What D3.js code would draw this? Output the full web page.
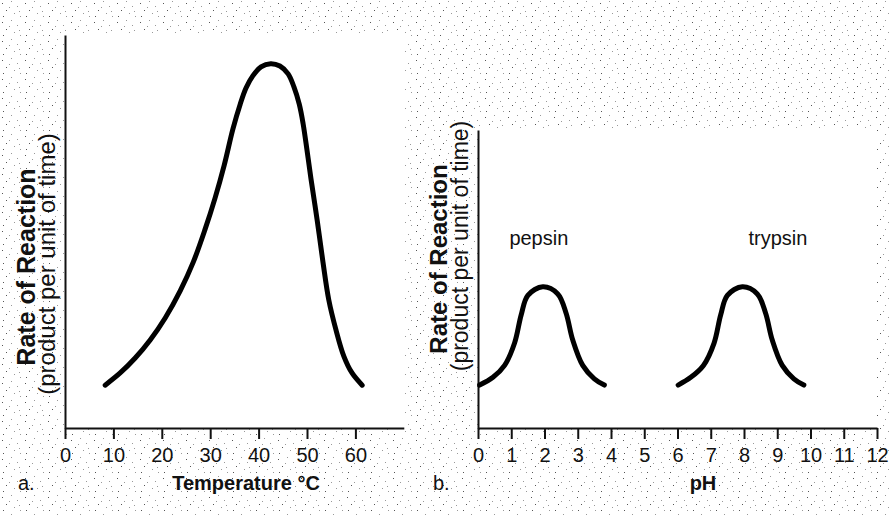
<!DOCTYPE html>
<html>
<head>
<meta charset="utf-8">
<script src="https://cdn.jsdelivr.net/npm/d3@7"></script>
<style>
  body { margin: 0; background: #fff; }
  svg { display: block; font-family: "Liberation Sans", Arial, Helvetica, sans-serif; }
</style>
</head>
<body>
<svg id="chart" width="891" height="515"></svg>
<script>
// panel a: temperature curve (rate in arbitrary units 0-100)
var tempC    = [8.3, 11.4, 14.5, 17.6, 20.7, 23.8, 26.5, 28.9, 31.0, 32.9, 34.7, 36.2, 37.4, 38.8, 40.5, 42.5, 44.4, 46.1, 47.3, 48.4, 49.2, 50.0, 50.8, 52.1, 53.3, 54.5, 56.0, 57.6, 59.3, 61.4];
var tempRate = [10.9, 14.0, 17.8, 22.4, 28.0, 34.9, 42.2, 50.4, 58.5, 66.9, 76.1, 82.4, 86.5, 89.6, 91.9, 92.7, 92.1, 90.1, 86.8, 82.4, 77.4, 70.7, 63.6, 52.9, 42.2, 32.6, 24.9, 18.3, 14.0, 10.9];
var tempTicks = [0, 10, 20, 30, 40, 50, 60];

// panel b: pH curves
var pepsinPH    = [0.05, 0.45, 0.8, 1.1, 1.3, 1.5, 1.95, 2.4, 2.65, 2.85, 3.15, 3.5, 3.8];
var pepsinRate  = [14.4, 17.0, 21.0, 28.5, 38.0, 44.5, 47.4, 45.0, 38.5, 29.5, 21.0, 16.5, 14.4];
var trypsinPH   = [6.02, 6.4, 6.78, 7.1, 7.3, 7.5, 7.95, 8.4, 8.65, 8.85, 9.15, 9.5, 9.8];
var trypsinRate = [14.4, 17.0, 21.0, 28.5, 38.0, 44.5, 47.4, 45.0, 38.5, 29.5, 21.0, 16.5, 14.4];
var phTicks = [0, 1, 2, 3, 4, 5, 6, 7, 8, 9, 10, 11, 12];

var svg = d3.select("#chart");

// speckled paper background (fixed dot layout in a tile)
var defs = svg.append("defs");
var pat = defs.append("pattern").attr("id", "speck")
  .attr("patternUnits", "userSpaceOnUse").attr("width", 23).attr("height", 19);
pat.append("rect").attr("width", 23).attr("height", 19).attr("fill", "#fff");
[[2,3],[11,1],[17,6],[6,10],[14,13],[20,16],[3,16],[9,7],[19,11]].forEach(function(p, i) {
  pat.append("rect").attr("x", p[0]).attr("y", p[1]).attr("width", 1).attr("height", 1)
    .attr("fill", i % 3 == 0 ? "#555" : "#999");
});
svg.append("rect").attr("width", 891).attr("height", 515).attr("fill", "url(#speck)");

// scales
var xT = d3.scaleLinear().domain([0, 70]).range([65, 403.8]);
var yT = d3.scaleLinear().domain([0, 100]).range([428, 35]);
var xP = d3.scaleLinear().domain([0, 12]).range([478, 877]);
var yP = d3.scaleLinear().domain([0, 100]).range([428, 130]);

// white plot areas
svg.append("rect").attr("x", xT.range()[0]).attr("y", yT.range()[1])
  .attr("width", xT.range()[1] - xT.range()[0]).attr("height", yT.range()[0] - yT.range()[1]).attr("fill", "#fff");
svg.append("rect").attr("x", xP.range()[0]).attr("y", yP.range()[1])
  .attr("width", xP.range()[1] - xP.range()[0]).attr("height", yP.range()[0] - yP.range()[1]).attr("fill", "#fff");

function drawAxes(x, y) {
  var gx = svg.append("g").attr("transform", "translate(0," + y.range()[0] + ")")
    .call(d3.axisBottom(x).tickValues(x === xT ? tempTicks : phTicks).tickFormat(d3.format("d"))
      .tickSize(11).tickSizeOuter(0).tickPadding(9));
  var gy = svg.append("g").attr("transform", "translate(" + x.range()[0] + ",0)")
    .call(d3.axisLeft(y).tickValues([]).tickSizeOuter(0));
  [gx, gy].forEach(function(g) {
    g.select(".domain").attr("stroke", "#111").attr("stroke-width", 2);
    g.selectAll(".tick line").attr("stroke", "#111").attr("stroke-width", 2);
    g.selectAll(".tick text").attr("fill", "#111").style("font-size", "20px");
  });
}
drawAxes(xT, yT);
drawAxes(xP, yP);

function curve(x, y, xs, ys) {
  var pts = xs.map(function(v, i) { return [v, ys[i]]; });
  svg.append("path").datum(pts)
    .attr("fill", "none").attr("stroke", "#000").attr("stroke-width", 5)
    .attr("stroke-linecap", "round")
    .attr("d", d3.line().x(function(d) { return x(d[0]); }).y(function(d) { return y(d[1]); })
      .curve(d3.curveCatmullRom.alpha(0.5)));
}
curve(xT, yT, tempC, tempRate);
curve(xP, yP, pepsinPH, pepsinRate);
curve(xP, yP, trypsinPH, trypsinRate);

// text
function yLabel(bx, rx, cy, cy2, size) {
  svg.append("text").attr("transform", "translate(" + bx + "," + cy + ") rotate(-90)")
    .attr("text-anchor", "middle").style("font-size", size + "px").style("font-weight", "bold")
    .attr("fill", "#111").text("Rate of Reaction");
  svg.append("text").attr("transform", "translate(" + rx + "," + cy2 + ") rotate(-90)")
    .attr("text-anchor", "middle").style("font-size", (size - 1) + "px")
    .attr("fill", "#111").text("(product per unit of time)");
}
yLabel(35, 55, 267, 264, 25);
yLabel(447, 468, 259, 246, 24);

svg.append("text").attr("x", 246).attr("y", 490).attr("text-anchor", "middle")
  .style("font-size", "20px").style("font-weight", "bold").attr("fill", "#111").text("Temperature °C");
svg.append("text").attr("x", 703).attr("y", 490).attr("text-anchor", "middle")
  .style("font-size", "20px").style("font-weight", "bold").attr("fill", "#111").text("pH");
svg.append("text").attr("x", 18).attr("y", 490).style("font-size", "20px").attr("fill", "#111").text("a.");
svg.append("text").attr("x", 433).attr("y", 490).style("font-size", "20px").attr("fill", "#111").text("b.");

svg.append("text").attr("x", xP(1.83)).attr("y", 245).attr("text-anchor", "middle")
  .style("font-size", "20px").attr("fill", "#111").text("pepsin");
svg.append("text").attr("x", xP(9.02)).attr("y", 245).attr("text-anchor", "middle")
  .style("font-size", "20px").attr("fill", "#111").text("trypsin");
</script>
</body>
</html>
